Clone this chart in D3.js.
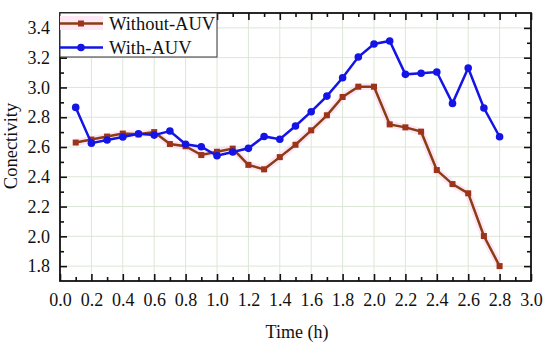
<!DOCTYPE html>
<html>
<head>
<meta charset="utf-8">
<script src="https://cdn.jsdelivr.net/npm/d3@7"></script>
<style>
  body { margin: 0; background: #fff; }
  svg { display: block; font-family: 'Liberation Serif', 'Times New Roman', serif; }
  svg text { font-family: 'Liberation Serif', 'Times New Roman', serif !important; }
</style>
</head>
<body>
<svg id="chart" width="550" height="348"></svg>
<script>
const times = [0.1, 0.2, 0.3, 0.4, 0.5, 0.6, 0.7, 0.8, 0.9, 1.0, 1.1, 1.2, 1.3, 1.4,
  1.5, 1.6, 1.7, 1.8, 1.9, 2.0, 2.1, 2.2, 2.3, 2.4, 2.5, 2.6, 2.7, 2.8];
const withoutAUV = [2.63, 2.65, 2.67, 2.69, 2.685, 2.70, 2.62, 2.605, 2.546, 2.568, 2.589, 2.48, 2.45, 2.532,
  2.615, 2.712, 2.813, 2.936, 3.005, 3.005, 2.752, 2.732, 2.703, 2.445, 2.351, 2.289, 2.002, 1.80];
const withAUV = [2.866, 2.626, 2.647, 2.667, 2.689, 2.68, 2.707, 2.618, 2.602, 2.541, 2.566, 2.591, 2.671, 2.652,
  2.741, 2.837, 2.942, 3.065, 3.204, 3.292, 3.312, 3.088, 3.095, 3.104, 2.893, 3.130, 2.862, 2.669];
const xMajor = [0.0, 0.2, 0.4, 0.6, 0.8, 1.0, 1.2, 1.4, 1.6, 1.8, 2.0, 2.2, 2.4, 2.6, 2.8, 3.0];
const xMinor = [0.1, 0.3, 0.5, 0.7, 0.9, 1.1, 1.3, 1.5, 1.7, 1.9, 2.1, 2.3, 2.5, 2.7, 2.9];
const yMajor = [1.8, 2.0, 2.2, 2.4, 2.6, 2.8, 3.0, 3.2, 3.4];
const yMinor = [1.9, 2.1, 2.3, 2.5, 2.7, 2.9, 3.1, 3.3];
const seriesNames = ['Without-AUV', 'With-AUV'];

const svg = d3.select('#chart');
const mLeft = 60, mRight = 531, mTop = 13, mBottom = 281;

const x = d3.scaleLinear().domain([0, 3]).range([mLeft, mRight]);
const y = d3.scaleLinear().domain([1.7, 3.5]).range([mBottom, mTop]);

// grid
const grid = svg.append('g').attr('class', 'grid');
grid.selectAll('.gx').data(xMajor.slice(1, -1)).enter().append('line')
  .attr('x1', d => x(d)).attr('x2', d => x(d))
  .attr('y1', mTop).attr('y2', mBottom)
  .attr('stroke', '#dce6d6').attr('stroke-width', 1);
grid.selectAll('.gy').data(yMajor).enter().append('line')
  .attr('x1', mLeft).attr('x2', mRight)
  .attr('y1', d => y(d)).attr('y2', d => y(d))
  .attr('stroke', '#dce6d6').attr('stroke-width', 1);

// axes (ticks point inward)
function styleAxis(g) {
  g.attr('font-family', null).attr('font-size', 18);
  g.select('.domain').remove();
  g.selectAll('.tick line').attr('stroke', '#111').attr('stroke-width', 1.6);
  g.selectAll('.tick text').attr('fill', '#111');
}

svg.append('g').attr('transform', `translate(0,${mBottom})`)
  .call(d3.axisBottom(x).tickValues(xMajor).tickSize(-7).tickPadding(12).tickFormat(d3.format('.1f')))
  .call(styleAxis);
svg.append('g').attr('transform', `translate(0,${mBottom})`)
  .call(d3.axisBottom(x).tickValues(xMinor).tickSize(-4).tickFormat(''))
  .call(styleAxis);
svg.append('g').attr('transform', `translate(0,${mTop})`)
  .call(d3.axisTop(x).tickValues(xMajor).tickSize(-7).tickFormat(''))
  .call(styleAxis);
svg.append('g').attr('transform', `translate(0,${mTop})`)
  .call(d3.axisTop(x).tickValues(xMinor).tickSize(-4).tickFormat(''))
  .call(styleAxis);

svg.append('g').attr('transform', `translate(${mLeft},0)`)
  .call(d3.axisLeft(y).tickValues(yMajor).tickSize(-7).tickPadding(10).tickFormat(d3.format('.1f')))
  .call(styleAxis);
svg.append('g').attr('transform', `translate(${mLeft},0)`)
  .call(d3.axisLeft(y).tickValues(yMinor).tickSize(-4).tickFormat(''))
  .call(styleAxis);
svg.append('g').attr('transform', `translate(${mRight},0)`)
  .call(d3.axisRight(y).tickValues(yMajor).tickSize(-7).tickFormat(''))
  .call(styleAxis);
svg.append('g').attr('transform', `translate(${mRight},0)`)
  .call(d3.axisRight(y).tickValues(yMinor).tickSize(-4).tickFormat(''))
  .call(styleAxis);

svg.append('rect')
  .attr('x', mLeft).attr('y', mTop)
  .attr('width', mRight - mLeft).attr('height', mBottom - mTop)
  .attr('fill', 'none').attr('stroke', '#111').attr('stroke-width', 1.8);

// lines
const line = d3.line().x(d => x(d[0])).y(d => y(d[1]));
const redData = times.map((t, i) => [t, withoutAUV[i]]);
const blueData = times.map((t, i) => [t, withAUV[i]]);

const plot = svg.append('g').attr('class', 'series');

plot.append('path').datum(redData)
  .attr('d', line).attr('fill', 'none')
  .attr('stroke', '#fbd0ee').attr('stroke-width', 7).attr('opacity', 0.55)
  .attr('stroke-linejoin', 'round');
plot.append('path').datum(redData)
  .attr('d', line).attr('fill', 'none')
  .attr('stroke', '#8a3d12').attr('stroke-width', 2.5);
plot.selectAll('.sq').data(redData).enter().append('rect')
  .attr('x', d => x(d[0]) - 3).attr('y', d => y(d[1]) - 3)
  .attr('width', 6).attr('height', 6)
  .attr('fill', '#9b3418');

plot.append('path').datum(blueData)
  .attr('d', line).attr('fill', 'none')
  .attr('stroke', '#1414e6').attr('stroke-width', 2.5);
plot.selectAll('.dot').data(blueData).enter().append('circle')
  .attr('cx', d => x(d[0])).attr('cy', d => y(d[1]))
  .attr('r', 3.8).attr('fill', '#1414e6');

// legend
const legend = svg.append('g').attr('class', 'legend');
legend.append('rect')
  .attr('x', mLeft).attr('y', mTop).attr('width', 157).attr('height', 44)
  .attr('fill', '#fff').attr('stroke', '#333').attr('stroke-width', 1);
legend.append('rect')
  .attr('x', mLeft).attr('y', mTop + 3).attr('width', 43).attr('height', 14)
  .attr('fill', '#fde8f6');
const rows = [
  { name: seriesNames[0], color: '#8a3d12', mark: '#9b3418', square: true, yy: 23.5 },
  { name: seriesNames[1], color: '#1414e6', mark: '#1414e6', square: false, yy: 47.5 }
];
rows.forEach(r => {
  legend.append('line')
    .attr('x1', mLeft).attr('x2', mLeft + 43)
    .attr('y1', r.yy).attr('y2', r.yy)
    .attr('stroke', r.color).attr('stroke-width', 2.5);
  if (r.square) {
    legend.append('rect').attr('x', mLeft + 18).attr('y', r.yy - 3)
      .attr('width', 6).attr('height', 6).attr('fill', r.mark);
  } else {
    legend.append('circle').attr('cx', mLeft + 21).attr('cy', r.yy)
      .attr('r', 3.8).attr('fill', r.mark);
  }
  legend.append('text')
    .attr('x', mLeft + 49).attr('y', r.yy + 6)
    .attr('font-size', 18.5).attr('fill', '#111')
    .text(r.name);
});

// axis titles
svg.append('text')
  .attr('x', 297).attr('y', 338)
  .attr('text-anchor', 'middle').attr('font-size', 18).attr('fill', '#111')
  .text('Time (h)');
svg.append('text')
  .attr('transform', 'translate(17,146) rotate(-90)')
  .attr('text-anchor', 'middle').attr('font-size', 18.5).attr('fill', '#111')
  .text('Conectivity');
</script>
</body>
</html>
